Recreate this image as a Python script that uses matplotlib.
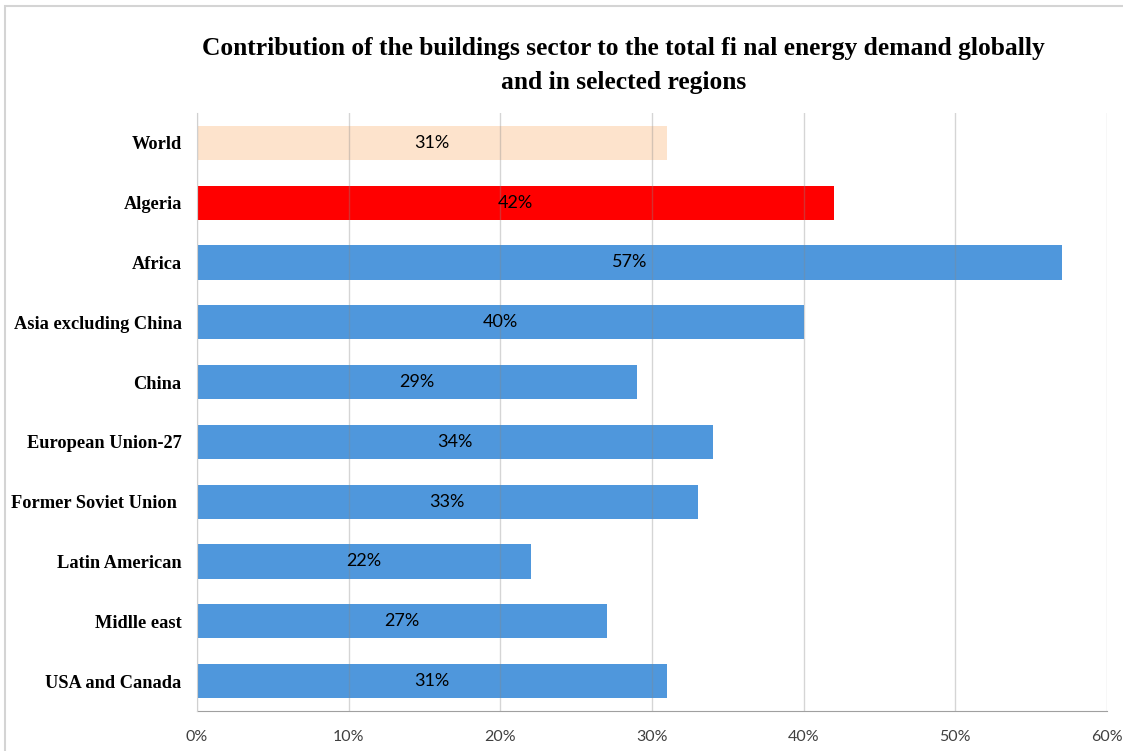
import matplotlib
matplotlib.use("Agg")
import matplotlib.pyplot as plt
from matplotlib.patches import Rectangle
from matplotlib.ticker import PercentFormatter

regions = ["World", "Algeria", "Africa", "Asia excluding China", "China",
           "European Union-27", "Former Soviet Union ", "Latin American",
           "Midlle east", "USA and Canada"]
shares = [31, 42, 57, 40, 29, 34, 33, 22, 27, 31]
bar_colors = ["#fde3cc", "#ff0000"] + ["#4f97dc"] * 8

fig = plt.figure(figsize=(11.23, 7.51), dpi=100)
ax = fig.add_axes([197 / 1123, 1 - 711 / 751, 910 / 1123, 598 / 751])

# thin frame around the chart area
fig.patches.append(Rectangle((5 / 1123, -0.01), 1.2, (751 - 6) / 751 + 0.01,
                             transform=fig.transFigure, fill=False,
                             edgecolor="#d4d4d4", linewidth=1.5))

ypos = list(range(len(regions)))[::-1]
ax.barh(ypos, shares, height=0.57, color=bar_colors, zorder=2)

for y, v in zip(ypos, shares):
    ax.text(v / 2, y, f"{v}%", ha="center", va="center",
            fontsize=13, family="Lato", color="black", zorder=4)

ax.set_xlim(0, 60)
ax.set_ylim(-0.5, len(regions) - 0.5)
ax.set_xticks(range(0, 61, 10))
ax.xaxis.set_major_formatter(PercentFormatter(decimals=0))
ax.grid(axis="x", color="#888888", alpha=0.35, linewidth=1, zorder=3)
ax.set_axisbelow(False)

ax.set_yticks(ypos)
ax.set_yticklabels(regions, family="Liberation Serif", fontweight="bold",
                   fontsize=13.2)
for lbl in ax.get_xticklabels():
    lbl.set_family("Lato")
    lbl.set_fontsize(11.5)
    lbl.set_color("#404040")

ax.tick_params(axis="y", length=0, pad=11)
ax.tick_params(axis="x", length=0, pad=14)
for s in ["top", "right"]:
    ax.spines[s].set_visible(False)
ax.spines["left"].set_color("#d0d0d0")
ax.spines["bottom"].set_color("#a0a0a0")
ax.spines["left"].set_zorder(5)

fig.text(0.555, 1 - 49 / 751,
         "Contribution of the buildings sector to the total fi nal energy demand globally",
         ha="center", va="center", family="Liberation Serif",
         fontweight="bold", fontsize=18.4)
fig.text(0.555, 1 - 82 / 751, "and in selected regions",
         ha="center", va="center", family="Liberation Serif",
         fontweight="bold", fontsize=18.4)

fig.savefig("out.png", dpi=100)
